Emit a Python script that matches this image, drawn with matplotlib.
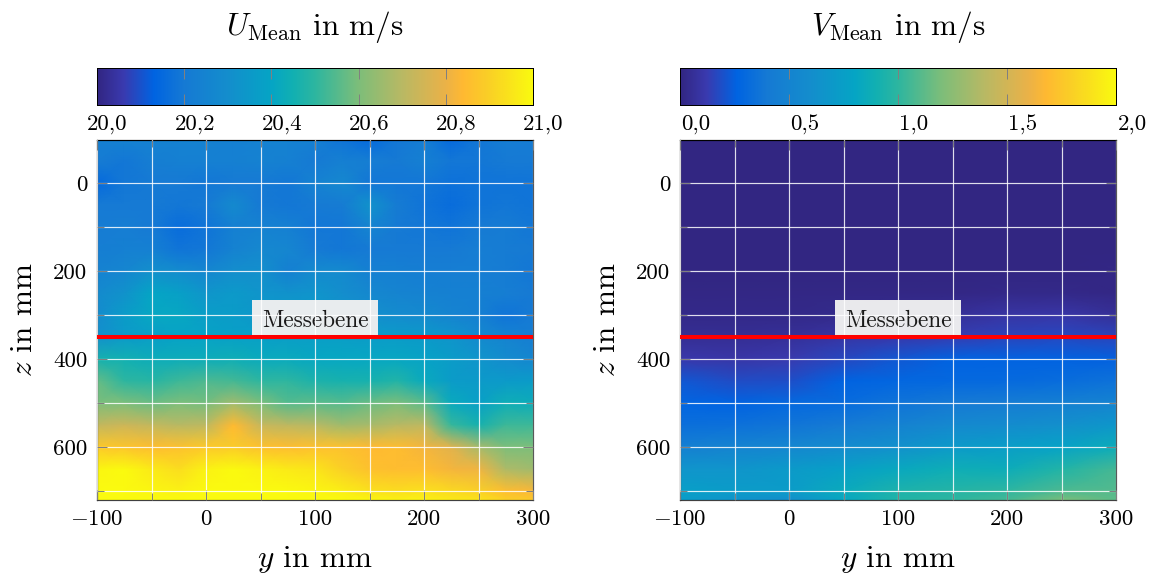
import matplotlib
matplotlib.use('Agg')
import matplotlib.pyplot as plt
import numpy as np
from matplotlib.colors import LinearSegmentedColormap
from matplotlib.patches import Rectangle
from matplotlib.transforms import ScaledTranslation

plt.rcParams['font.family'] = ['cmr10', 'DejaVu Serif']
plt.rcParams['mathtext.fontset'] = 'cm'
plt.rcParams['axes.formatter.use_mathtext'] = True
plt.rcParams['axes.unicode_minus'] = False

y_mm = [-100, -75, -50, -25, 0, 25, 50, 75, 100, 125, 150, 175, 200, 225, 250, 275, 300]
z_mm = [-100, -50, 0, 50, 100, 150, 200, 250, 300, 350, 400, 450, 500, 550, 600, 650, 700, 720]

u_mean = [
    [20.23, 20.24, 20.24, 20.24, 20.24, 20.23, 20.24, 20.24, 20.23, 20.18, 20.15, 20.19, 20.22, 20.15, 20.19, 20.22, 20.21],
    [20.21, 20.19, 20.22, 20.23, 20.23, 20.23, 20.24, 20.23, 20.20, 20.23, 20.22, 20.20, 20.23, 20.19, 20.19, 20.20, 20.20],
    [20.15, 20.19, 20.20, 20.20, 20.19, 20.20, 20.20, 20.19, 20.24, 20.27, 20.19, 20.19, 20.19, 20.17, 20.18, 20.18, 20.18],
    [20.20, 20.20, 20.20, 20.19, 20.20, 20.28, 20.20, 20.19, 20.20, 20.21, 20.32, 20.21, 20.18, 20.16, 20.18, 20.19, 20.18],
    [20.21, 20.22, 20.20, 20.16, 20.18, 20.23, 20.24, 20.23, 20.19, 20.19, 20.25, 20.20, 20.19, 20.18, 20.20, 20.21, 20.19],
    [20.22, 20.23, 20.23, 20.18, 20.19, 20.24, 20.27, 20.26, 20.20, 20.19, 20.20, 20.20, 20.20, 20.20, 20.22, 20.21, 20.20],
    [20.24, 20.26, 20.31, 20.29, 20.26, 20.30, 20.31, 20.23, 20.28, 20.28, 20.23, 20.23, 20.22, 20.22, 20.22, 20.21, 20.19],
    [20.28, 20.32, 20.40, 20.38, 20.33, 20.35, 20.33, 20.32, 20.33, 20.30, 20.27, 20.25, 20.24, 20.23, 20.23, 20.22, 20.20],
    [20.29, 20.36, 20.41, 20.41, 20.37, 20.36, 20.34, 20.36, 20.34, 20.33, 20.31, 20.29, 20.28, 20.25, 20.23, 20.18, 20.20],
    [20.31, 20.35, 20.37, 20.39, 20.39, 20.38, 20.38, 20.37, 20.37, 20.37, 20.36, 20.36, 20.35, 20.33, 20.28, 20.25, 20.22],
    [20.46, 20.45, 20.43, 20.43, 20.43, 20.44, 20.42, 20.42, 20.41, 20.41, 20.41, 20.41, 20.39, 20.36, 20.33, 20.29, 20.26],
    [20.57, 20.50, 20.49, 20.52, 20.54, 20.53, 20.50, 20.50, 20.47, 20.46, 20.46, 20.48, 20.42, 20.36, 20.35, 20.35, 20.36],
    [20.60, 20.60, 20.58, 20.60, 20.59, 20.66, 20.60, 20.55, 20.56, 20.55, 20.58, 20.60, 20.56, 20.42, 20.38, 20.44, 20.43],
    [20.72, 20.74, 20.72, 20.70, 20.71, 20.84, 20.73, 20.71, 20.70, 20.66, 20.67, 20.70, 20.71, 20.51, 20.46, 20.52, 20.52],
    [20.88, 20.87, 20.85, 20.86, 20.88, 20.89, 20.86, 20.85, 20.86, 20.86, 20.84, 20.85, 20.82, 20.78, 20.67, 20.60, 20.60],
    [20.99, 21.00, 20.96, 20.93, 20.98, 21.00, 20.98, 20.96, 20.95, 20.90, 20.86, 20.85, 20.85, 20.82, 20.81, 20.68, 20.66],
    [21.00, 21.00, 20.99, 20.98, 21.00, 21.00, 21.00, 21.00, 20.99, 20.97, 20.94, 20.93, 20.94, 20.92, 20.90, 20.85, 20.83],
    [21.00, 21.00, 21.00, 21.00, 21.00, 21.00, 21.00, 21.00, 21.00, 21.00, 20.99, 20.98, 20.98, 20.96, 20.95, 20.90, 20.88],
]

y2_mm = [-100, -50, 0, 50, 100, 150, 200, 250, 300]
v_mean = [
    [0.00, 0.00, 0.00, 0.00, 0.00, 0.00, 0.00, 0.00, 0.00],
    [0.00, 0.00, 0.00, 0.00, 0.00, 0.00, 0.00, 0.00, 0.00],
    [0.00, 0.00, 0.00, 0.00, 0.00, 0.00, 0.00, 0.00, 0.00],
    [0.00, 0.00, 0.00, 0.00, 0.00, 0.00, 0.00, 0.00, 0.00],
    [0.00, 0.00, 0.00, 0.00, 0.00, 0.00, 0.00, 0.00, 0.00],
    [0.00, 0.00, 0.00, 0.00, 0.00, 0.00, 0.00, 0.00, 0.00],
    [0.00, 0.00, 0.00, 0.00, 0.00, 0.00, 0.00, 0.00, 0.01],
    [0.01, 0.01, 0.01, 0.01, 0.01, 0.01, 0.02, 0.02, 0.01],
    [0.02, 0.02, 0.02, 0.03, 0.04, 0.06, 0.09, 0.10, 0.06],
    [0.05, 0.05, 0.06, 0.09, 0.11, 0.13, 0.16, 0.17, 0.16],
    [0.11, 0.10, 0.12, 0.17, 0.22, 0.26, 0.26, 0.26, 0.25],
    [0.22, 0.18, 0.19, 0.26, 0.28, 0.29, 0.30, 0.32, 0.35],
    [0.27, 0.26, 0.29, 0.31, 0.36, 0.40, 0.43, 0.46, 0.50],
    [0.33, 0.34, 0.37, 0.41, 0.48, 0.55, 0.58, 0.62, 0.68],
    [0.46, 0.50, 0.53, 0.58, 0.63, 0.70, 0.74, 0.78, 0.86],
    [0.66, 0.66, 0.70, 0.76, 0.83, 0.88, 0.86, 0.96, 1.06],
    [0.76, 0.72, 0.72, 0.85, 0.94, 0.97, 1.00, 1.08, 1.10],
    [0.72, 0.65, 0.60, 0.82, 0.96, 1.00, 1.06, 1.20, 1.12],
]

u_ticks = [20.0, 20.2, 20.4, 20.6, 20.8, 21.0]
u_tick_labels = ['20,0', '20,2', '20,4', '20,6', '20,8', '21,0']
v_ticks = [0.0, 0.5, 1.0, 1.5, 2.0]
v_tick_labels = ['0,0', '0,5', '1,0', '1,5', '2,0']

x_major = [-100, 0, 100, 200, 300]
x_minor = [-50, 50, 150, 250]
z_major = [0, 200, 400, 600]
z_minor = [100, 300, 500, 700]

colour_pos = [0, 0.06, 0.13, 0.2, 0.3, 0.4, 0.45, 0.5, 0.6, 0.7, 0.8, 0.84, 0.9, 1]
colour_rgb = [(50, 38, 130), (58, 58, 175), (0, 100, 226), (22, 122, 212), (20, 142, 205),
              (5, 165, 197), (18, 176, 178), (45, 182, 160), (125, 190, 122), (185, 185, 100),
              (235, 178, 72), (255, 185, 50), (250, 208, 38), (250, 250, 15)]
cmap = LinearSegmentedColormap.from_list(
    'parula', [(p, tuple(c / 255 for c in rgb)) for p, rgb in zip(colour_pos, colour_rgb)], N=512)

W, H = 1156, 577
GRAY = '#808080'
PX = 72 / 100


def px_rect(left, top, right, bottom):
    return [left / W, 1 - bottom / H, (right - left) / W, (bottom - top) / H]


def panel(left, ys, values, vmin, vmax, ticks, tick_labels, label_shift, title):
    cax = fig.add_axes(px_rect(left, 68, left + 436, 105))
    ramp = np.linspace(vmin, vmax, 512).reshape(1, -1)
    cax.imshow(ramp, aspect='auto', cmap=cmap, vmin=vmin, vmax=vmax,
               extent=[vmin, vmax, 0, 1], interpolation='bilinear')
    cax.set_yticks([])
    cax.set_xticks(ticks)
    cax.set_xticklabels(tick_labels, fontsize=16.5)
    cax.tick_params(axis='x', direction='in', top=True, length=11 * PX, width=PX, color=GRAY, pad=7)
    shift = ScaledTranslation(label_shift / 100, 0, fig.dpi_scale_trans)
    for lab in cax.get_xticklabels():
        lab.set_transform(lab.get_transform() + shift)
    for s in cax.spines.values():
        s.set_linewidth(PX)
    cax.set_title(title, fontsize=22.5, pad=24)

    ax = fig.add_axes(px_rect(left, 140, left + 436, 500))
    Y, Z = np.meshgrid(ys, z_mm)
    ax.pcolormesh(Y, Z, np.array(values), cmap=cmap, vmin=vmin, vmax=vmax,
                  shading='gouraud', rasterized=True)
    ax.set_xlim(-100, 300)
    ax.set_ylim(720, -98)
    ax.set_xticks(x_major)
    ax.set_xticks(x_minor, minor=True)
    ax.set_yticks(z_major)
    ax.set_yticks(z_minor, minor=True)
    ax.set_xticklabels(['$-100$', '0', '100', '200', '300'], fontsize=16.5)
    ax.set_yticklabels(['0', '200', '400', '600'], fontsize=16.5)
    ax.tick_params(which='major', direction='in', top=True, right=True, length=10 * PX,
                   width=PX, color=GRAY, pad=7)
    ax.tick_params(which='minor', direction='in', top=True, right=True, length=7 * PX,
                   width=PX, color=GRAY)
    ax.grid(which='both', color='white', linewidth=0.85, alpha=0.85)
    ax.set_axisbelow(False)
    ax.axhline(350, color='#ff0000', linewidth=2.9, zorder=3)
    # label box, grid shows through only very faintly
    ax.add_patch(Rectangle((42, 266), 116, 81, fc='#f0f0f0', ec='none', alpha=0.97, zorder=2.2))
    ax.text(100, 312, 'Messebene', fontsize=16.8, ha='center', va='center', color='#1a1a1a', zorder=2.5)
    ax.set_xlabel('$y$ in mm', fontsize=22.5, labelpad=10.5)
    ax.set_ylabel('$z$ in mm', fontsize=22.5, labelpad=11)
    for s in ax.spines.values():
        s.set_linewidth(PX * 1.2)
    ax.spines['right'].set_alpha(0.65)
    ax.spines['bottom'].set_alpha(0.75)


fig = plt.figure(figsize=(W / 100, H / 100), dpi=100)
panel(97, y_mm, u_mean, 20.0, 21.0, u_ticks, u_tick_labels, 10.5, r'$U_{\mathrm{Mean}}$ in m/s')
panel(680, y2_mm, v_mean, 0.0, 2.0, v_ticks, v_tick_labels, 16, r'$V_{\mathrm{Mean}}$ in m/s')

fig.savefig('out.png', dpi=100)
